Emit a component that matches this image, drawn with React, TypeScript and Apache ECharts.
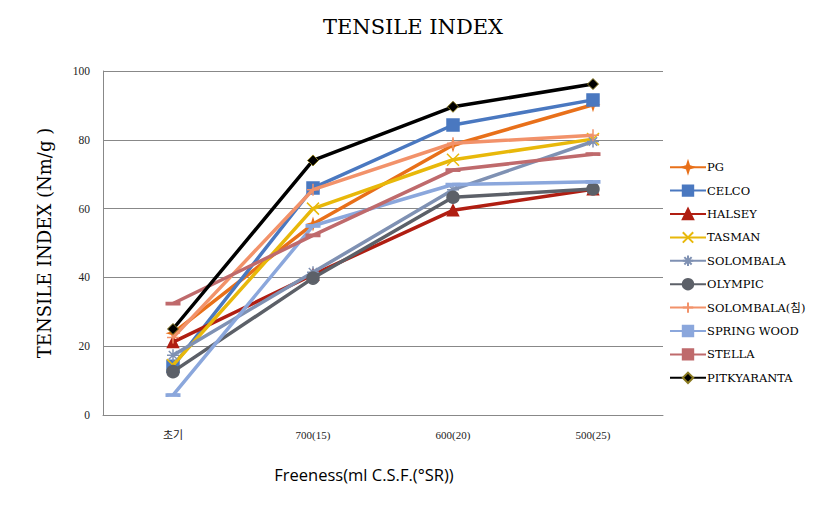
import React, { useEffect, useRef } from "react";
import * as echarts from "echarts";

const categories = ["초기", "700(15)", "600(20)", "500(25)"];
const seriesNames = ["PG", "CELCO", "HALSEY", "TASMAN", "SOLOMBALA", "OLYMPIC", "SOLOMBALA(침)", "SPRING WOOD", "STELLA", "PITKYARANTA"];
const pg = [23.8, 55.5, 78.5, 90.2];
const celco = [14.2, 66, 84.3, 91.6];
const halsey = [21.2, 40.8, 59.5, 65.6];
const tasman = [14.5, 60, 74.2, 80.2];
const solombala = [17.4, 41.5, 65.5, 79.5];
const olympic = [12.6, 39.8, 63.3, 65.7];
const solombalaC = [22.5, 65.5, 79, 81.3];
const springWood = [5.8, 55, 67, 67.8];
const stella = [32.4, 52.2, 71.2, 75.8];
const pitkyaranta = [25, 74, 89.6, 96.2];
const yTicks = [0, 20, 40, 60, 80, 100];

const seriesData = [pg, celco, halsey, tasman, solombala, olympic, solombalaC, springWood, stella, pitkyaranta];
const colors = ["#E8701A", "#4A78C0", "#B01E12", "#E8B80A", "#7F91B3", "#5C6068", "#F2926A", "#8BA7DC", "#BF6A6C", "#000000"];

const STAR = "path://M5,0L6.2,3.8L10,5L6.2,6.2L5,10L3.8,6.2L0,5L3.8,3.8Z";
const XMARK = "path://M0,0L10,10M10,0L0,10";
const ASTER = "path://M5,0L5,10M0,5L10,5M1.5,1.5L8.5,8.5M8.5,1.5L1.5,8.5";
const PLUS = "path://M5,0L5,10M0,5L10,5";

const symbols = [STAR, "rect", "triangle", XMARK, ASTER, "circle", PLUS, "rect", "rect", "diamond"];
const symbolSizes = [10, 12, 11, 12, 12, 12, 12, [12, 3], [12, 3], 11];

export default function App() {
  const ref = useRef<HTMLDivElement>(null);
  useEffect(() => {
    if (!ref.current) return;
    const chart = echarts.init(ref.current, null, { renderer: "svg" });
    const serif = "'Liberation Serif', 'Noto Sans CJK KR', serif";
    const wideSerif = "'DejaVu Serif', 'Noto Sans CJK KR', serif";
    chart.setOption({
      animation: false,
      backgroundColor: "#ffffff",
      title: {
        text: "TENSILE INDEX",
        left: "center",
        top: 3,
        textStyle: { fontFamily: wideSerif, fontSize: 21, fontWeight: "normal", color: "#000" },
      },
      legend: {
        orient: "vertical",
        left: 656,
        top: 148,
        itemGap: 11,
        itemWidth: 36,
        itemHeight: 13,
        data: seriesNames,
        textStyle: { fontFamily: wideSerif, fontSize: 11.5, color: "#000", padding: [0, 0, 0, -4] },
      },
      grid: { left: 95, right: 155, top: 63, bottom: 91, containLabel: false },
      xAxis: {
        type: "category",
        data: categories,
        boundaryGap: true,
        name: "Freeness(ml C.S.F.(°SR))",
        nameLocation: "middle",
        nameGap: 51,
        nameTextStyle: { fontFamily: "'Open Sans', 'Liberation Sans', sans-serif", fontSize: 16.5, color: "#000", padding: [0, 38, 0, 0] },
        axisLine: { lineStyle: { color: "#888", width: 1 } },
        axisTick: { show: false },
        axisLabel: { fontFamily: serif, fontSize: 11, color: "#222", margin: 14 },
      },
      yAxis: {
        type: "value",
        min: yTicks[0],
        max: yTicks[yTicks.length - 1],
        interval: 20,
        name: "TENSILE INDEX (Nm/g )",
        nameLocation: "middle",
        nameGap: 50,
        nameTextStyle: { fontFamily: wideSerif, fontSize: 18, color: "#000" },
        axisLine: { show: true, lineStyle: { color: "#888", width: 1 } },
        axisTick: { show: false },
        splitLine: { lineStyle: { color: "#888", width: 1 } },
        axisLabel: { fontFamily: serif, fontSize: 11.5, color: "#222", margin: 13 },
      },
      series: seriesNames.map((name, i) => ({
        name,
        type: "line",
        data: seriesData[i],
        symbol: symbols[i],
        symbolSize: symbolSizes[i],
        showAllSymbol: true,
        lineStyle: { color: colors[i], width: 3.5 },
        itemStyle: {
          color: colors[i],
          borderColor: i === 9 ? "#8a7a20" : colors[i],
          borderWidth: i === 9 ? 1 : 1.5,
        },
        z: 2 + i,
      })),
    });
    return () => chart.dispose();
  }, []);
  return <div ref={ref} style={{ width: 810, height: 498 }} />;
}
